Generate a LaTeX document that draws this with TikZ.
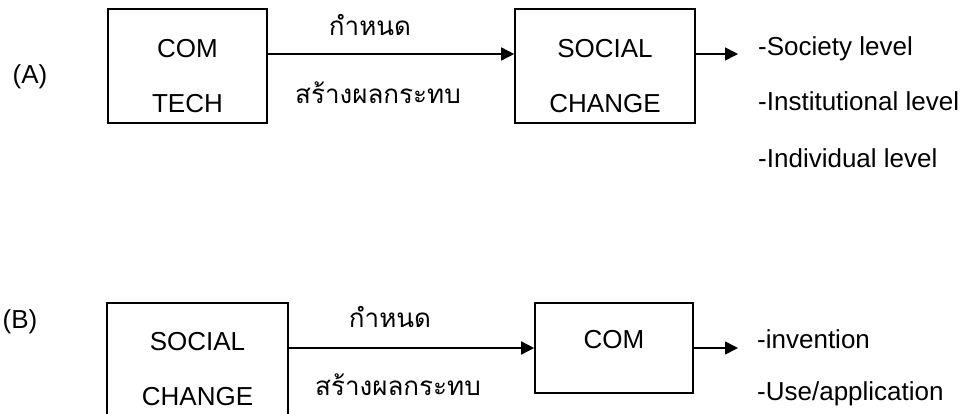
\documentclass[tikz,border=0pt]{standalone}
\usepackage{fontspec}
\setmainfont{Liberation Sans}
\newfontfamily\thaifont[Script=Thai]{Loma}
\usetikzlibrary{arrows.meta}
\begin{document}
\begin{tikzpicture}[x=1bp,y=-1bp,
  blk/.style={draw,line width=1.6bp,inner sep=0pt},
  txt/.style={inner sep=0pt,anchor=base,font=\fontsize{26bp}{30bp}\selectfont},
  ltxt/.style={inner sep=0pt,anchor=base west,font=\fontsize{26bp}{30bp}\selectfont},
  thai/.style={inner sep=0pt,anchor=base,font=\fontsize{26bp}{30bp}\thaifont},
  conn/.style={line width=1.6bp,-{Triangle[length=13bp,width=13bp]}}
]
\useasboundingbox (0,0) rectangle (964,413);
\clip (0,0) rectangle (964,413);
% ---------- (A) ----------
\coordinate (ya) at (0,54);
\node[txt] (labA) at (30,83) {(A)};
\node[blk,minimum width=159bp,minimum height=114bp] (comtech) at (187.5,66) {};
\node[txt] (tcomA) at (187.5,57) {COM};
\node[txt] (ttechA) at (187.5,112) {TECH};
\node[blk,minimum width=180bp,minimum height=114bp] (socA) at (605,66) {};
\node[txt] (tsocA) at (605,57) {SOCIAL};
\node[txt] (tchgA) at (605,112) {CHANGE};
\node[thai] (detA) at (370,35) {กำหนด};
\node[thai] (impA) at (378,103) {สร้างผลกระทบ};
\draw[conn] (comtech.east |- ya) -- (socA.west |- ya);
\coordinate (endA) at (738,54);
\draw[conn] (socA.east |- ya) -- (endA);
\node[ltxt] (lv1) at (758,55) {-Society level};
\node[ltxt] (lv2) at (758,110) {-Institutional level};
\node[ltxt] (lv3) at (758,167) {-Individual level};
% ---------- (B) ----------
\coordinate (yb) at (0,348);
\node[txt] (labB) at (20,328) {(B)};
\node[blk,minimum width=181bp,minimum height=114bp] (socB) at (197.5,360) {};
\node[txt] (tsocB) at (197.5,350) {SOCIAL};
\node[txt] (tchgB) at (197.5,405) {CHANGE};
\node[blk,minimum width=158bp,minimum height=90bp] (comB) at (614,348) {};
\node[txt] (tcomB) at (614,348) {COM};
\node[thai] (detB) at (390,327) {กำหนด};
\node[thai] (impB) at (398,395) {สร้างผลกระทบ};
\draw[conn] (socB.east |- yb) -- (comB.west |- yb);
\coordinate (endB) at (738,348);
\draw[conn] (comB.east |- yb) -- (endB);
\node[ltxt] (inv) at (757,348) {-invention};
\node[ltxt] (use) at (757,400) {-Use/application};
\end{tikzpicture}
\end{document}
